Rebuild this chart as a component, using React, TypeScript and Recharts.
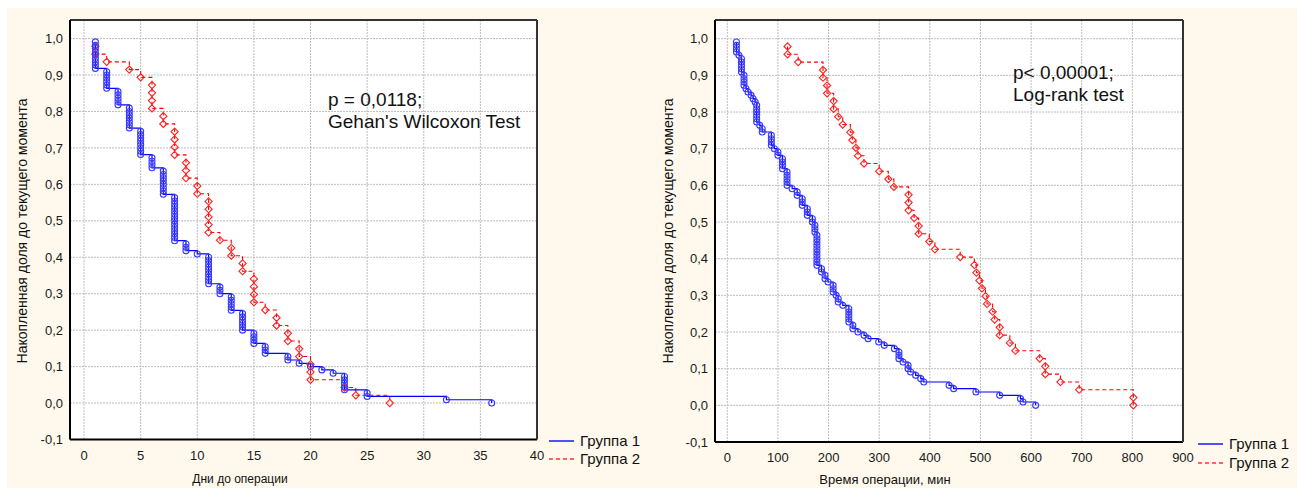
import React from 'react';
import { ComposedChart, Line, XAxis, YAxis, CartesianGrid } from 'recharts';

const FONT = '"Liberation Sans", Arial, sans-serif';

// Left chart: Дни до операции
const daysTicks = [0, 5, 10, 15, 20, 25, 30, 35, 40];
const g1DaysTimes = [1, 2, 3, 4, 5, 6, 7, 8, 9, 10, 11, 12, 13, 14, 15, 16, 18, 19, 20, 21, 22, 23, 25, 32, 36];
const g1DaysEvents = [9, 6, 5, 7, 8, 4, 8, 14, 3, 1, 9, 3, 5, 6, 4, 3, 2, 1, 1, 1, 1, 5, 2, 1, 1];
const g2DaysTimes = [1, 2, 4, 5, 6, 7, 8, 9, 10, 11, 12, 13, 14, 15, 16, 17, 18, 19, 20, 23, 24, 27];
const g2DaysEvents = [2, 1, 1, 1, 4, 2, 4, 3, 2, 5, 1, 2, 2, 4, 1, 2, 2, 2, 3, 1, 1, 1];

// Right chart: Время операции, мин
const minutesTicks = [0, 100, 200, 300, 400, 500, 600, 700, 800, 900];
const g1MinTimes = [18, 23, 28, 33, 37, 41, 47, 51, 55, 58, 64, 69, 87, 93, 100, 109, 118, 128, 138, 148, 158, 168, 173, 177, 186, 193, 199, 209, 215, 219, 228, 240, 248, 258, 270, 278, 299, 310, 330, 339, 347, 357, 362, 372, 382, 388, 438, 447, 491, 538, 579, 584, 609];
const g1MinEvents = [4, 1, 5, 4, 1, 1, 1, 1, 1, 6, 1, 2, 4, 1, 2, 4, 5, 1, 2, 3, 3, 2, 3, 10, 2, 2, 1, 3, 1, 2, 1, 5, 2, 1, 1, 1, 1, 1, 1, 3, 1, 2, 1, 1, 1, 1, 1, 1, 1, 1, 1, 1, 1];
const g2MinTimes = [119, 140, 189, 197, 210, 219, 228, 243, 247, 254, 258, 270, 300, 318, 329, 358, 369, 378, 399, 410, 460, 488, 492, 498, 503, 510, 513, 524, 528, 538, 558, 569, 617, 628, 658, 695, 802];
const g2MinEvents = [2, 1, 2, 2, 2, 1, 1, 1, 1, 1, 1, 1, 1, 1, 1, 3, 1, 2, 1, 1, 1, 1, 1, 1, 1, 1, 1, 1, 1, 2, 1, 1, 1, 2, 1, 1, 2];

const yTicks = [-0.1, 0, 0.1, 0.2, 0.3, 0.4, 0.5, 0.6, 0.7, 0.8, 0.9, 1.0];
const groupNames = ['Группа 1', 'Группа 2'];

const BLUE = '#0000ff';
const RED = '#ff0000';

// cumulative proportion surviving (no censoring), one point per event
function kmPoints(times: number[], events: number[]) {
  const n = events.reduce((a, b) => a + b, 0);
  let left = n;
  const pts: { t: number; s: number }[] = [];
  times.forEach((t, i) => {
    for (let k = 0; k < events[i]; k++) {
      left -= 1;
      pts.push({ t, s: left / n });
    }
  });
  return pts;
}

const circleDot = (p: any) => (
  <circle key={`c${p.index}`} cx={p.cx} cy={p.cy} r={3} fill="none" stroke="#3a3aff" strokeWidth={1.1} />
);
const diamondDot = (p: any) => {
  const d = 3.6;
  return (
    <path
      key={`d${p.index}`}
      d={`M${p.cx},${p.cy - d}L${p.cx + d},${p.cy}L${p.cx},${p.cy + d}L${p.cx - d},${p.cy}Z`}
      fill="none"
      stroke="#ff2020"
      strokeWidth={1.1}
    />
  );
};

const fmtY = (v: number) => v.toFixed(1).replace('.', ',');

interface KMProps {
  width: number;
  height: number;
  margin: { top: number; right: number; bottom: number; left: number };
  xDomain: [number, number];
  xTicks: number[];
  g1: { t: number; s: number }[];
  g2: { t: number; s: number }[];
}

function KMChart({ width, height, margin, xDomain, xTicks, g1, g2 }: KMProps) {
  const tickStyle = { fontSize: 13, fill: '#1a1a1a', fontFamily: FONT };
  return (
    <ComposedChart width={width} height={height} margin={margin}>
      <CartesianGrid stroke="#bdbdbd" strokeDasharray="2 1" fill="#ffffff" />
      <XAxis
        type="number"
        dataKey="t"
        domain={xDomain}
        ticks={xTicks}
        allowDataOverflow
        height={30}
        axisLine={{ stroke: '#000', strokeWidth: 2 }}
        tickLine={false}
        tickSize={8}
        tickMargin={3}
        tick={tickStyle}
        interval={0}
      />
      <XAxis
        xAxisId="top"
        orientation="top"
        type="number"
        dataKey="t"
        domain={xDomain}
        ticks={xTicks}
        allowDataOverflow
        mirror
        height={1}
        axisLine={{ stroke: '#333', strokeWidth: 2 }}
        tickLine={{ stroke: '#333' }}
        tickSize={4}
        tick={false}
        interval={0}
      />
      <YAxis
        type="number"
        domain={[-0.1, 1.051]}
        ticks={yTicks}
        allowDataOverflow
        width={40}
        axisLine={{ stroke: '#000', strokeWidth: 2 }}
        tickLine={false}
        tickSize={6}
        tickMargin={1}
        tick={tickStyle}
        tickFormatter={fmtY}
        interval={0}
      />
      <YAxis
        yAxisId="right"
        orientation="right"
        type="number"
        domain={[-0.1, 1.051]}
        ticks={yTicks}
        allowDataOverflow
        mirror
        width={1}
        axisLine={{ stroke: '#333', strokeWidth: 2 }}
        tickLine={{ stroke: '#333' }}
        tickSize={4}
        tick={false}
        interval={0}
      />
      <Line
        data={g2}
        dataKey="s"
        type="stepAfter"
        stroke={RED}
        strokeWidth={1.1}
        strokeDasharray="4 3"
        dot={diamondDot}
        activeDot={false}
        isAnimationActive={false}
      />
      <Line
        data={g1}
        dataKey="s"
        type="stepAfter"
        stroke={BLUE}
        strokeWidth={1.2}
        dot={circleDot}
        activeDot={false}
        isAnimationActive={false}
      />
    </ComposedChart>
  );
}

const abs = (s: React.CSSProperties): React.CSSProperties => ({ position: 'absolute', fontFamily: FONT, color: '#111', whiteSpace: 'nowrap', ...s });

function LegendBox({ x, y, gap }: { x: number; y: number; gap: number }) {
  return (
    <>
      <svg style={{ position: 'absolute', left: x, top: y - 4 }} width={28} height={gap + 8}>
        <line x1={0} y1={4} x2={25} y2={4} stroke="#5050ff" strokeWidth={2} />
        <line x1={0} y1={4 + gap} x2={25} y2={4 + gap} stroke="#ff3030" strokeWidth={1.5} strokeDasharray="4 3" />
      </svg>
      <div style={abs({ left: x + 31, top: y - 9, fontSize: 15, lineHeight: '18px' })}>{groupNames[0]}</div>
      <div style={abs({ left: x + 31, top: y - 9 + gap, fontSize: 15, lineHeight: '18px' })}>{groupNames[1]}</div>
    </>
  );
}

export default function App() {
  const g1d = kmPoints(g1DaysTimes, g1DaysEvents);
  const g2d = kmPoints(g2DaysTimes, g2DaysEvents);
  const g1m = kmPoints(g1MinTimes, g1MinEvents);
  const g2m = kmPoints(g2MinTimes, g2MinEvents);
  const yTitle = 'Накопленная доля до текущего момента';
  return (
    <div style={{ position: 'absolute', left: 0, top: 0, width: 1297, height: 488, background: '#ffffff', overflow: 'hidden' }}>
      <div style={{ position: 'absolute', left: 7, top: 8, width: 1290, height: 480, background: '#fef9ec' }} />

      <div style={{ position: 'absolute', left: 0, top: 0 }}>
        <KMChart
          width={560}
          height={488}
          margin={{ top: 20, right: 23, bottom: 18.5, left: 30 }}
          xDomain={[-1.24, 40]}
          xTicks={daysTicks}
          g1={g1d}
          g2={g2d}
        />
      </div>
      <div style={{ position: 'absolute', left: 645, top: 0 }}>
        <KMChart
          width={560}
          height={488}
          margin={{ top: 20, right: 22, bottom: 16, left: 30 }}
          xDomain={[-24.3, 900]}
          xTicks={minutesTicks}
          g1={g1m}
          g2={g2m}
        />
      </div>

      <div style={abs({ left: 22, top: 231, fontSize: 14, transform: 'translate(-50%, -50%) rotate(-90deg)' })}>{yTitle}</div>
      <div style={abs({ left: 668, top: 231, fontSize: 14, transform: 'translate(-50%, -50%) rotate(-90deg)' })}>{yTitle}</div>

      <div style={abs({ left: 240, top: 479, fontSize: 12, transform: 'translate(-50%, -50%)' })}>Дни до операции</div>
      <div style={abs({ left: 885, top: 479, fontSize: 13, transform: 'translate(-50%, -50%)' })}>Время операции, мин</div>

      <div style={abs({ left: 328, top: 89, fontSize: 19, lineHeight: '22px' })}>
        p = 0,0118;
        <br />
        Gehan's Wilcoxon Test
      </div>
      <div style={abs({ left: 1013, top: 62, fontSize: 19, lineHeight: '22px' })}>
        p&lt; 0,00001;
        <br />
        Log-rank test
      </div>

      <LegendBox x={549} y={441} gap={18} />
      <LegendBox x={1198} y={444} gap={19} />
    </div>
  );
}
